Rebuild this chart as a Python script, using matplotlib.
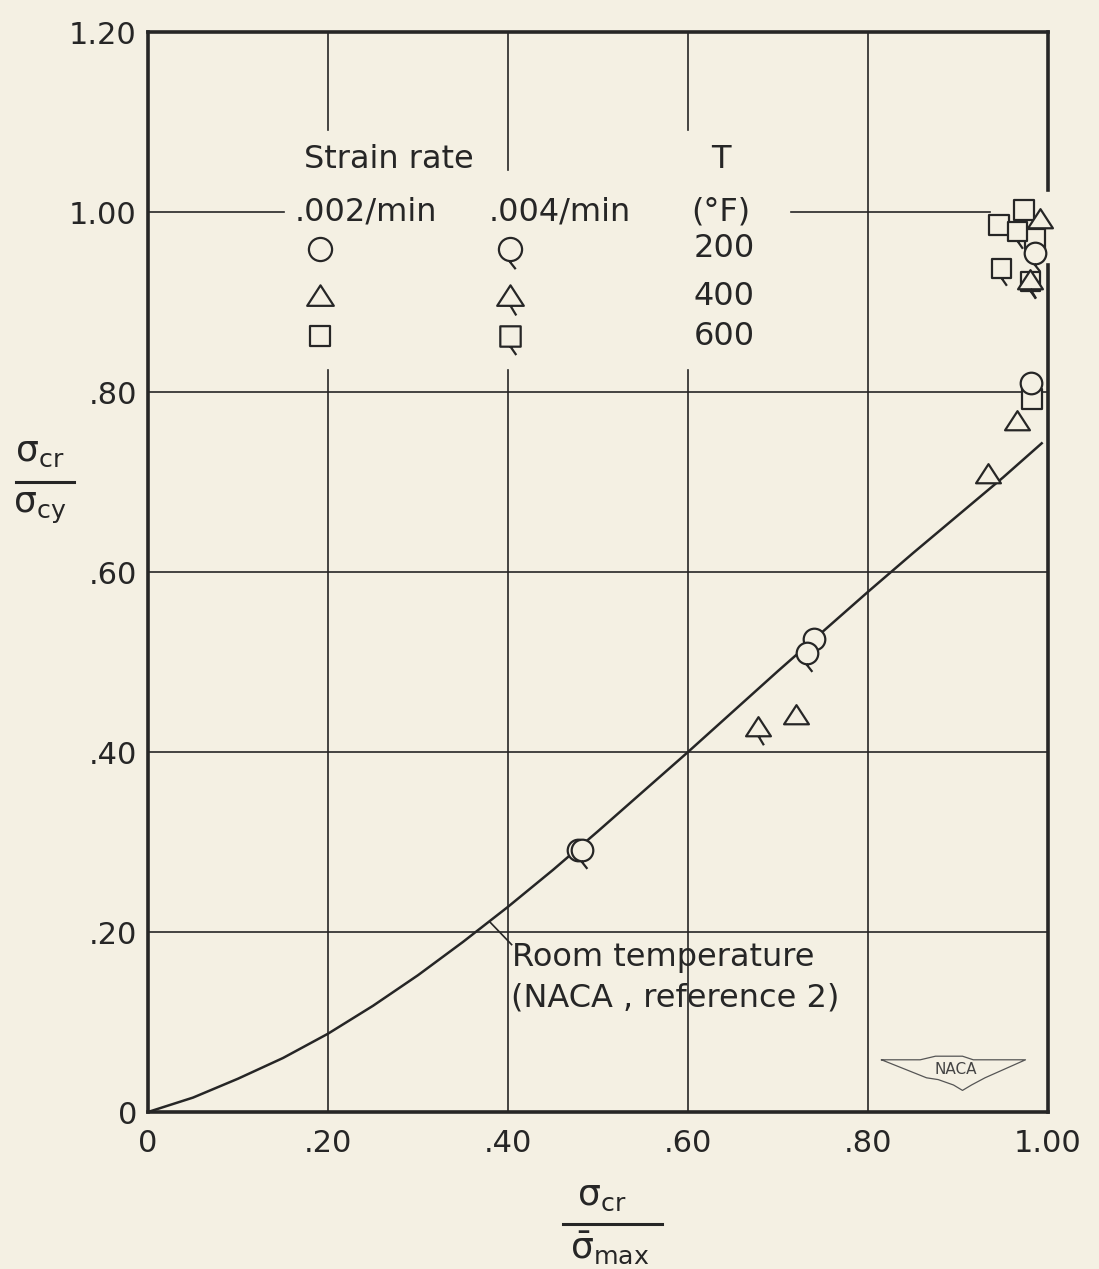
import numpy as np
import matplotlib.pyplot as plt
from matplotlib.path import Path
from matplotlib.lines import Line2D

# DATA:
# ==================================================================
# room temperature curve (NACA, reference 2)
CURVE_X = [0.0, 0.05, 0.10, 0.15, 0.20, 0.25, 0.30, 0.35, 0.40, 0.45, 0.50,
           0.55, 0.60, 0.65, 0.70, 0.75, 0.80, 0.85, 0.90, 0.95, 0.993]
CURVE_Y = [0.0, 0.016, 0.037, 0.060, 0.087, 0.118, 0.152, 0.189, 0.228, 0.269, 0.312,
           0.356, 0.400, 0.445, 0.490, 0.534, 0.578, 0.621, 0.663, 0.705, 0.743]

# strain rate .002/min
C002_X = [0.478, 0.740, 0.981]
C002_Y = [0.291, 0.526, 0.810]
T002_X = [0.720, 0.933, 0.966, 0.991]
T002_Y = [0.440, 0.708, 0.767, 0.991]
S002_X = [0.973, 0.946, 0.985, 0.982]
S002_Y = [1.002, 0.986, 0.970, 0.792]

# strain rate .004/min
C004_X = [0.482, 0.732, 0.986]
C004_Y = [0.291, 0.510, 0.955]
T004_X = [0.678, 0.980]
T004_Y = [0.427, 0.923]
S004_X = [0.966, 0.948, 0.980]
S004_Y = [0.979, 0.938, 0.923]

XTICKS = [0.0, 0.2, 0.4, 0.6, 0.8, 1.0]
XTICKLABELS = ['0', '.20', '.40', '.60', '.80', '1.00']
YTICKS = [0.0, 0.2, 0.4, 0.6, 0.8, 1.0, 1.2]
YTICKLABELS = ['0', '.20', '.40', '.60', '.80', '1.00', '1.20']

TEMPS = ['200', '400', '600']

# STYLE:
# ==================================================================
BG = '#f4f0e3'
INK = '#262626'
FS = 23
plt.rcParams['font.family'] = ['DejaVu Sans']
plt.rcParams['mathtext.fontset'] = 'dejavusans'

# MARKERS (open shapes, .004/min ones get a tail):
# ==================================================================
def marker(kind, tail):
    if kind == 'o':
        base = Path.unit_circle()
        t0, t1 = (-0.1, -1.0), (0.45, -1.7)
    elif kind == '^':
        base = Path([(0, 1.05), (-1.15, -0.72), (1.15, -0.72), (0, 1.05)],
                    [Path.MOVETO, Path.LINETO, Path.LINETO, Path.CLOSEPOLY])
        t0, t1 = (0.0, -0.72), (0.5, -1.55)
    else:
        base = Path([(-0.88, -0.88), (0.88, -0.88), (0.88, 0.88), (-0.88, 0.88), (-0.88, -0.88)],
                    [Path.MOVETO, Path.LINETO, Path.LINETO, Path.LINETO, Path.CLOSEPOLY])
        t0, t1 = (0.0, -0.88), (0.5, -1.6)
    parts = [base]
    if tail:
        parts.append(Path([t0, t1], [Path.MOVETO, Path.LINETO]))
    # dummy vertex so every marker gets the same scale
    parts.append(Path([(1.8, 0.0)], [Path.MOVETO]))
    return Path.make_compound_path(*parts)

MS = 28
MEW = 1.6

def pts(ax, x, y, kind, tail, **kw):
    ax.plot(x, y, ls='none', marker=marker(kind, tail), ms=MS, mew=MEW,
            mec=INK, mfc=BG, clip_on=False, zorder=5, **kw)

# MAKE PLOT:
# ==================================================================
fig = plt.figure(figsize=(10.99, 12.69), dpi=100)
fig.patch.set_facecolor(BG)
ax = fig.add_axes([148/1099, 1-1112/1269, 900/1099, 1080/1269])
ax.set_facecolor(BG)
ax.set_xlim(0, 1.0)
ax.set_ylim(0, 1.2)

for s in ax.spines.values():
    s.set_visible(False)

# frame (right side broken where points sit)
lw_frame = 2.6
ax.plot([0, 1.0], [0, 0], color=INK, lw=lw_frame, solid_capstyle='projecting', clip_on=False)
ax.plot([0, 0], [0, 1.2], color=INK, lw=lw_frame, solid_capstyle='projecting', clip_on=False)
ax.plot([0, 1.0], [1.2, 1.2], color=INK, lw=lw_frame, solid_capstyle='projecting', clip_on=False)
ax.plot([1.0, 1.0], [1.2, 1.024], color=INK, lw=lw_frame, clip_on=False)
ax.plot([1.0, 1.0], [0.941, 0], color=INK, lw=lw_frame, clip_on=False)

# grid (broken around the key)
lw_grid = 1.2
for x in [0.2, 0.6]:
    ax.plot([x, x], [0, 0.824], color=INK, lw=lw_grid)
    ax.plot([x, x], [1.091, 1.2], color=INK, lw=lw_grid)
ax.plot([0.4, 0.4], [0, 0.824], color=INK, lw=lw_grid)
ax.plot([0.4, 0.4], [1.047, 1.2], color=INK, lw=lw_grid)
ax.plot([0.8, 0.8], [0, 1.2], color=INK, lw=lw_grid)
for y in [0.2, 0.4, 0.6, 0.8]:
    ax.plot([0, 1.0], [y, y], color=INK, lw=lw_grid)
ax.plot([0, 0.151], [1.0, 1.0], color=INK, lw=lw_grid)
ax.plot([0.714, 0.936], [1.0, 1.0], color=INK, lw=lw_grid)

# curve
ax.plot(CURVE_X, CURVE_Y, color=INK, lw=1.8, zorder=3)
ax.plot([0.380, 0.404], [0.211, 0.186], color=INK, lw=1.2)
ax.text(0.405, 0.172, 'Room temperature', fontsize=FS, color=INK, va='center', ha='left')
ax.text(0.403, 0.127, '(NACA , reference 2)', fontsize=FS, color=INK, va='center', ha='left')

# points
pts(ax, S002_X, S002_Y, 's', False)
pts(ax, S004_X, S004_Y, 's', True)
pts(ax, C002_X, C002_Y, 'o', False)
pts(ax, C004_X, C004_Y, 'o', True)
pts(ax, T002_X, T002_Y, '^', False)
pts(ax, T004_X, T004_Y, '^', True)

# key
ax.text(0.173, 1.058, 'Strain rate', fontsize=FS, color=INK, va='center', ha='left')
ax.text(0.636, 1.058, 'T', fontsize=FS, color=INK, va='center', ha='center')
ax.text(0.163, 1.0, '.002/min', fontsize=FS, color=INK, va='center', ha='left')
ax.text(0.378, 1.0, '.004/min', fontsize=FS, color=INK, va='center', ha='left')
ax.text(0.604, 1.0, '(°F)', fontsize=FS, color=INK, va='center', ha='left')
key_y = [0.959, 0.906, 0.862]
for kind, ky, tt in zip(['o', '^', 's'], key_y, TEMPS):
    ax.plot([0.191], [ky], ls='none', marker=marker(kind, False), ms=30, mew=1.6, mec=INK, mfc=BG)
    ax.plot([0.402], [ky], ls='none', marker=marker(kind, True), ms=30, mew=1.6, mec=INK, mfc=BG)
    ax.text(0.606, ky, tt, fontsize=FS, color=INK, va='center', ha='left')

# NACA mark
wx = [0.815, 0.858, 0.875, 0.905, 0.917, 0.935, 0.975, 0.930, 0.915, 0.905, 0.895, 0.878, 0.865, 0.815]
wy = [0.058, 0.058, 0.062, 0.062, 0.058, 0.058, 0.058, 0.038, 0.030, 0.024, 0.030, 0.036, 0.038, 0.058]
ax.plot(wx, wy, color='#555555', lw=0.9)
ax.text(0.897, 0.047, 'NACA', fontsize=11, color='#444444', ha='center', va='center')

# ticks
ax.set_xticks(XTICKS)
ax.set_xticklabels(XTICKLABELS)
ax.set_yticks(YTICKS)
ax.set_yticklabels(YTICKLABELS)
ax.tick_params(length=0, labelsize=22, colors=INK, pad=12)
ax.tick_params(axis='y', pad=8)

# axis labels as fractions
fig.text(40/1099, 1-452/1269, r'$\mathrm{\sigma}_{\rm cr}$', fontsize=26, color=INK, ha='center', va='center')
fig.add_artist(Line2D([16/1099, 74/1099], [1-482/1269, 1-482/1269], color=INK, lw=2.2))
fig.text(40/1099, 1-508/1269, r'$\mathrm{\sigma}_{\rm cy}$', fontsize=26, color=INK, ha='center', va='center')

fig.text(602/1099, 1-1196/1269, r'$\mathrm{\sigma}_{\rm cr}$', fontsize=26, color=INK, ha='center', va='center')
fig.add_artist(Line2D([563/1099, 662/1099], [1-1224/1269, 1-1224/1269], color=INK, lw=2.2))
fig.text(610/1099, 1-1248/1269, r'$\bar{\mathrm{\sigma}}_{\rm max}$', fontsize=26, color=INK, ha='center', va='center')

fig.savefig('out.png', dpi=100, facecolor=BG)
